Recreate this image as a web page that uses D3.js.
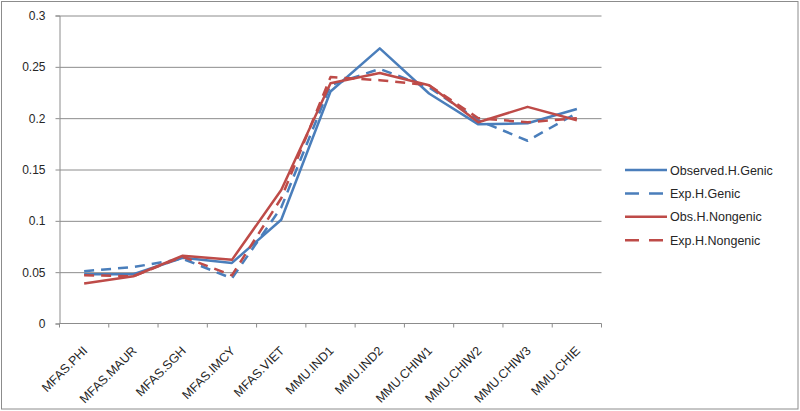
<!DOCTYPE html>
<html>
<head>
<meta charset="utf-8">
<script src="https://cdn.jsdelivr.net/npm/d3@7"></script>
<style>
  body { margin: 0; background: #fff; }
  svg text { font-family: "Liberation Sans", Arial, sans-serif; fill: #262626; }
</style>
</head>
<body>
<div id="chart"></div>
<script>
// Chart data
var categories = ["MFAS.PHI", "MFAS.MAUR", "MFAS.SGH", "MFAS.IMCY", "MFAS.VIET",
  "MMU.IND1", "MMU.IND2", "MMU.CHIW1", "MMU.CHIW2", "MMU.CHIW3", "MMU.CHIE"];
var obsGenic    = [0.048, 0.048, 0.064, 0.059, 0.101, 0.226, 0.268, 0.224, 0.194, 0.195, 0.209];
var expGenic    = [0.051, 0.055, 0.063, 0.044, 0.113, 0.232, 0.248, 0.230, 0.198, 0.178, 0.205];
var obsNongenic = [0.039, 0.046, 0.066, 0.062, 0.130, 0.234, 0.244, 0.232, 0.196, 0.211, 0.198];
var expNongenic = [0.047, 0.046, 0.065, 0.047, 0.122, 0.240, 0.237, 0.232, 0.200, 0.196, 0.200];
var seriesNames = ["Observed.H.Genic", "Exp.H.Genic", "Obs.H.Nongenic", "Exp.H.Nongenic"];
var yTicks = [0, 0.05, 0.1, 0.15, 0.2, 0.25, 0.3];
var yTickLabels = ["0", "0.05", "0.1", "0.15", "0.2", "0.25", "0.3"];

// Dimensions of SVG
var width = 800;
var height = 411;

var series = [
  { name: seriesNames[0], values: obsGenic,    color: "#4a7ebb", dash: null },
  { name: seriesNames[1], values: expGenic,    color: "#4a7ebb", dash: "10,7" },
  { name: seriesNames[2], values: obsNongenic, color: "#be4b48", dash: null },
  { name: seriesNames[3], values: expNongenic, color: "#be4b48", dash: "10,7" }
];

var svg = d3.select("#chart").append("svg")
    .attr("width", width)
    .attr("height", height);

// outer chart border
svg.append("rect")
    .attr("x", 1.5).attr("y", 1.5)
    .attr("width", width - 3.5).attr("height", height - 3.5)
    .attr("fill", "#fff")
    .attr("stroke", "#8c8c8c")
    .attr("stroke-width", 1);

var x = d3.scaleBand()
    .domain(categories)
    .range([59.5, 601.5])
    .padding(0);

var y = d3.scaleLinear()
    .domain([0, 0.3])
    .range([323.5, 15.5]);

// gridlines
svg.append("g")
    .attr("transform", "translate(" + x.range()[0] + ",0)")
    .call(d3.axisLeft(y).tickValues(yTicks.slice(1)).tickSize(-(x.range()[1] - x.range()[0])).tickFormat(""))
    .call(function(g) { g.select(".domain").remove(); })
    .selectAll("line")
      .attr("stroke", "#8c8c8c");

// y axis
var yAxis = svg.append("g")
    .attr("transform", "translate(" + x.range()[0] + ",0)")
    .call(d3.axisLeft(y).tickValues(yTicks).tickSize(4).tickPadding(10)
      .tickFormat(function(d, i) { return yTickLabels[i]; }));
yAxis.select(".domain").attr("stroke", "#8c8c8c");
yAxis.selectAll(".tick line").attr("stroke", "#8c8c8c");
yAxis.selectAll(".tick text")
    .style("font-size", "12px")
    .style("font-family", "'Liberation Sans', Arial, sans-serif")
    .attr("fill", "#1a1a1a");

// x axis line and tick marks between categories
var xTickPos = categories.map(function(c) { return x(c); }).concat([x.range()[1]]);
svg.append("line")
    .attr("x1", x.range()[0]).attr("x2", x.range()[1])
    .attr("y1", y(0)).attr("y2", y(0))
    .attr("stroke", "#8c8c8c");
svg.selectAll(".xtick")
  .data(xTickPos)
  .enter().append("line")
    .attr("class", "xtick")
    .attr("x1", function(d) { return d; }).attr("x2", function(d) { return d; })
    .attr("y1", y(0)).attr("y2", y(0) + 4)
    .attr("stroke", "#8c8c8c");

// rotated category labels
svg.selectAll(".xlabel")
  .data(categories)
  .enter().append("text")
    .attr("class", "xlabel")
    .attr("text-anchor", "end")
    .style("font-size", "12.5px")
    .attr("transform", function(d) {
      return "translate(" + (x(d) + x.bandwidth() / 2 + 4) + "," + (y(0) + 28) + ") rotate(-45)";
    })
    .text(function(d) { return d; });

// lines
var line = d3.line()
    .x(function(d, i) { return x(categories[i]) + x.bandwidth() / 2; })
    .y(function(d) { return y(d); });

svg.selectAll(".series")
  .data(series)
  .enter().append("path")
    .attr("class", "series")
    .attr("d", function(d) { return line(d.values); })
    .attr("fill", "none")
    .attr("stroke", function(d) { return d.color; })
    .attr("stroke-width", 2.5)
    .attr("stroke-dasharray", function(d) { return d.dash; })
    .attr("stroke-linejoin", "round");

// legend
var legend = svg.selectAll(".legendItem")
  .data(series)
  .enter().append("g")
    .attr("class", "legendItem")
    .attr("transform", function(d, i) { return "translate(625," + (170 + i * 23.4) + ")"; });

legend.append("line")
    .attr("x1", 0).attr("x2", 42)
    .attr("y1", 0).attr("y2", 0)
    .attr("stroke", function(d) { return d.color; })
    .attr("stroke-width", 2.5)
    .attr("stroke-dasharray", function(d) { return d.dash ? "14,10" : null; });

legend.append("text")
    .attr("x", 45)
    .attr("y", 0)
    .attr("dy", "0.36em")
    .style("font-size", "12.5px")
    .text(function(d) { return d.name; });
</script>
</body>
</html>
